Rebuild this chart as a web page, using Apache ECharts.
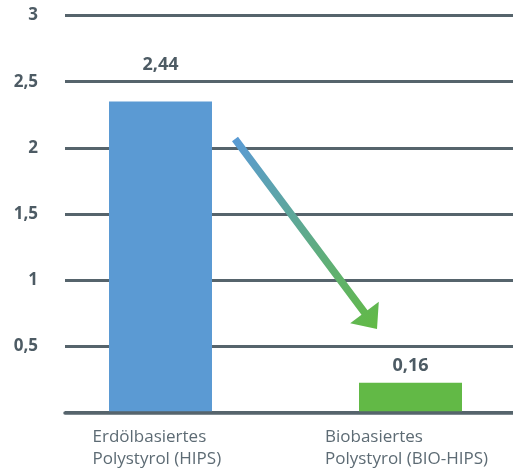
<!DOCTYPE html>
<html>
<head>
<meta charset="utf-8">
<script src="https://cdn.jsdelivr.net/npm/echarts@6/dist/echarts.min.js"></script>
<style>
html,body{margin:0;padding:0;background:#fff;}
#chart{width:513px;height:472px;}
</style>
</head>
<body>
<div id="chart"></div>
<script>
// Data
const categories = ['Erdölbasiertes\nPolystyrol (HIPS)', 'Biobasiertes\nPolystyrol (BIO-HIPS)'];
const valueLabels = [2.44, 0.16];          // printed values
const barHeights = [2.35, 0.225];          // heights as drawn in the reference
const barColors = ['#5b9ad3', '#62b946'];
const yTicks = [0, 0.5, 1, 1.5, 2, 2.5, 3];

const fmt = v => String(v).replace('.', ',');
const GRID_TOP = 15.5, GRID_BOTTOM = 59.5;
const gridColor = '#56646c';
const font = 'Open Sans';

const chart = echarts.init(document.getElementById('chart'));
chart.setOption({
  animation: false,
  grid: [
    { left: 65, right: 0, top: GRID_TOP, bottom: GRID_BOTTOM },
    { left: 160.5, right: 102.5, top: GRID_TOP, bottom: GRID_BOTTOM }
  ],
  xAxis: [
    { gridIndex: 0, type: 'category', data: categories, z: 5,
      axisLine: { show: true, lineStyle: { color: gridColor, width: 3.5 } },
      axisTick: { show: false }, axisLabel: { show: false }, splitLine: { show: false } },
    { gridIndex: 1, type: 'category', data: categories, boundaryGap: false,
      axisLine: { show: false }, axisTick: { show: false },
      axisLabel: {
        margin: 14,
        formatter: (v, i) => v.split('\n').map(l => '{c' + i + '|' + l + '}').join('\n'),
        rich: {
          c0: { width: 136, align: 'left', fontFamily: font, fontSize: 17, lineHeight: 22, color: '#5d6b74' },
          c1: { width: 171, align: 'left', fontFamily: font, fontSize: 17, lineHeight: 22, color: '#5d6b74' }
        }
      } }
  ],
  yAxis: [
    { gridIndex: 0, type: 'value', min: yTicks[0], max: yTicks[yTicks.length - 1], interval: 0.5,
      axisLine: { show: false }, axisTick: { show: false },
      axisLabel: { margin: 27, showMinLabel: false, formatter: v => (v === 0 ? '' : fmt(v)),
                   fontFamily: font, fontWeight: 'bold', fontSize: 17, color: '#4d5b64' },
      splitLine: { show: true, lineStyle: { color: gridColor, width: 3 } } },
    { gridIndex: 1, type: 'value', min: yTicks[0], max: yTicks[yTicks.length - 1], interval: 0.5,
      show: false, splitLine: { show: false } }
  ],
  series: [
    { type: 'bar', xAxisIndex: 1, yAxisIndex: 1, barWidth: 103, clip: false,
      data: barHeights.map((v, i) => ({ value: v, itemStyle: { color: barColors[i] } })) },
    { type: 'bar', xAxisIndex: 1, yAxisIndex: 1, barWidth: 103, barGap: '-100%', clip: false,
      itemStyle: { color: 'rgba(0,0,0,0)' }, silent: true,
      label: { show: true, position: 'top', distance: 16, formatter: p => fmt(p.value),
               fontFamily: font, fontWeight: 'bold', fontSize: 18, color: '#4d5b64' },
      data: valueLabels }
  ],
  graphic: [{
    type: 'polygon', z: 10,
    shape: { points: [[232, 141.25], [238, 136.75], [367.5, 310.25], [378.8, 301.8], [377, 329], [350.2, 323.2], [361.5, 314.75]] },
    style: {
      fill: new echarts.graphic.LinearGradient(0, 0, 1, 1, [
        { offset: 0, color: '#5a9ad6' },
        { offset: 1, color: '#62ba44' }
      ])
    }
  }]
});
</script>
</body>
</html>
